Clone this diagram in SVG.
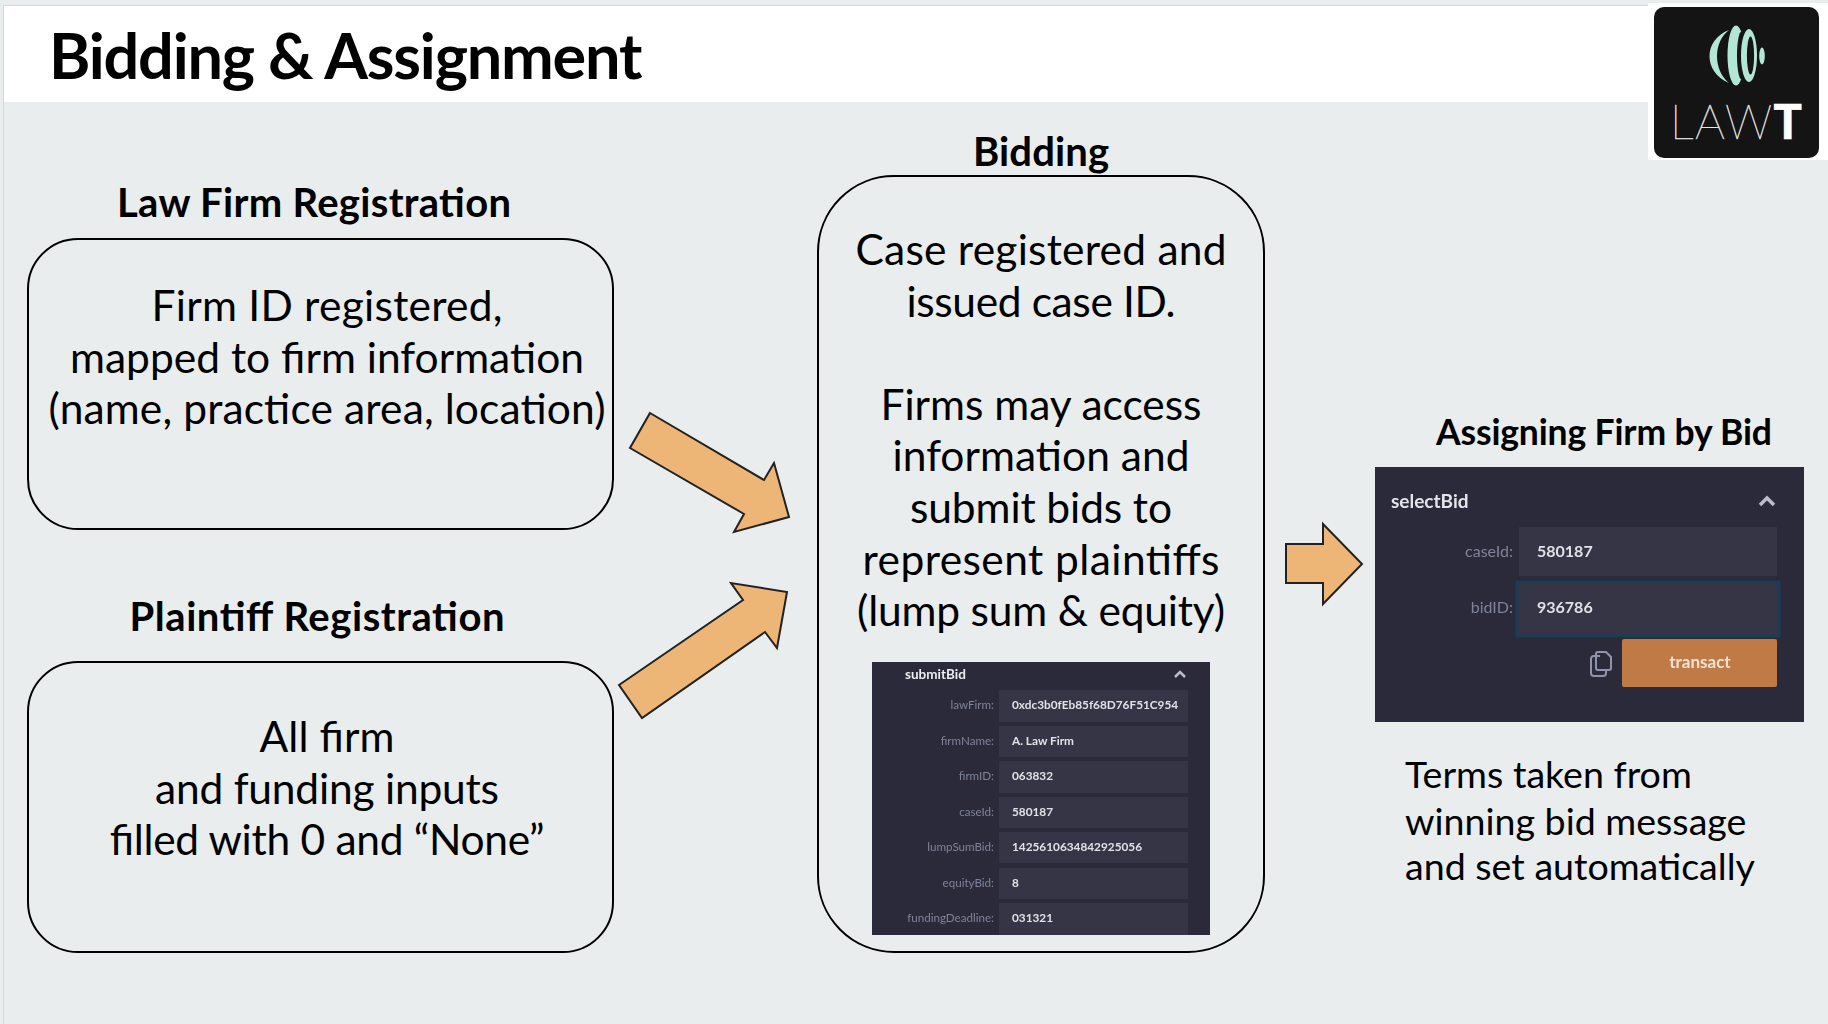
<svg xmlns="http://www.w3.org/2000/svg" width="1828" height="1024" viewBox="0 0 1828 1024">
<defs>
<style>
text{font-family:"Lato","Liberation Sans",sans-serif;fill:#000}
.h{font-weight:700;font-size:40px;text-anchor:middle}
.b{font-size:42.5px;text-anchor:middle}
.box{fill:none;stroke:#000;stroke-width:2}
.arr{fill:#edb677;stroke:#222;stroke-width:2}
.fld{fill:#363645}
.lb{text-anchor:end;font-size:11.6px}
.val{font-size:11.8px;font-weight:700}
</style>
<filter id="soft" x="-2%" y="-2%" width="104%" height="104%"><feGaussianBlur stdDeviation="0.7"/></filter>
<filter id="logoblur" x="-10%" y="-10%" width="120%" height="120%"><feGaussianBlur stdDeviation="0.5"/></filter>
</defs>
<rect width="1828" height="1024" fill="#e9edee"/>
<rect x="3" y="5" width="1820" height="1019" fill="#d6d8da"/>
<rect x="4" y="6" width="1644" height="96" fill="#ffffff"/>
<rect x="4" y="102" width="1819" height="922" fill="#e9edee"/>
<g id="title"><text x="49" y="79" font-size="63" font-weight="700" letter-spacing="-1.2">Bidding &amp; Assignment</text></g>
<g id="logo">
<rect x="1648" y="3" width="180" height="157" fill="#ffffff"/>
<rect x="1654" y="7" width="165" height="151" rx="10" fill="#141414"/>
<g filter="url(#logoblur)">
<g fill="#b4e6d5">
<path d="M1729 30C1703 40 1703 72 1729 83C1713 70 1713 42 1729 30Z"/>
<ellipse cx="1736" cy="55.5" rx="8.5" ry="30"/>
</g>
<ellipse cx="1741.5" cy="55.5" rx="4.5" ry="24" fill="#141414"/>
<ellipse cx="1749" cy="55.5" rx="9" ry="27.5" fill="#141414"/>
<ellipse cx="1749" cy="55.5" rx="8" ry="26.5" fill="#b4e6d5"/>
<ellipse cx="1750.5" cy="55.5" rx="3.6" ry="19" fill="#141414"/>
<ellipse cx="1762" cy="56" rx="2.8" ry="8.5" fill="#b4e6d5"/>
</g>
<text x="1670" y="139" font-size="47" font-weight="100" letter-spacing="1.5" style="fill:#e6e6e6;stroke:#e6e6e6;stroke-width:0.5">LAW<tspan font-weight="900" style="fill:#fff;stroke:#fff">T</tspan></text>
</g>
<g id="law-firm">
<text class="h" x="314" y="217" textLength="394">Law Firm Registration</text>
<rect class="box" x="28" y="239" width="585" height="290" rx="50"/>
<text class="b" x="327" y="321" textLength="351">Firm ID registered,</text>
<text class="b" x="327" y="373" textLength="514">mapped to firm information</text>
<text class="b" x="327" y="424" textLength="557">(name, practice area, location)</text>
</g>
<g id="plaintiff">
<text class="h" x="317" y="631" textLength="375">Plaintiff Registration</text>
<rect class="box" x="28" y="662" width="585" height="290" rx="50"/>
<text class="b" x="327" y="752" textLength="135">All firm</text>
<text class="b" x="327" y="804" textLength="344">and funding inputs</text>
<text class="b" x="327" y="855" textLength="435">filled with 0 and “None”</text>
</g>
<g id="bidding">
<text class="h" x="1041" y="166" textLength="136">Bidding</text>
<rect class="box" x="818" y="176" width="446" height="776" rx="76"/>
<text class="b" x="1041" y="265" textLength="371">Case registered and</text>
<text class="b" x="1041" y="317" textLength="269">issued case ID.</text>
<text class="b" x="1041" y="420" textLength="321">Firms may access</text>
<text class="b" x="1041" y="471" textLength="297">information and</text>
<text class="b" x="1041" y="523" textLength="262">submit bids to</text>
<text class="b" x="1041" y="575" textLength="357">represent plaintiffs</text>
<text class="b" x="1041" y="626" textLength="368">(lump sum &amp; equity)</text>
</g>
<g id="submitBid-panel" filter="url(#soft)">
<rect x="872" y="662" width="338" height="273" fill="#2b2b3b"/>
<text x="905" y="679" font-size="13.5" font-weight="700" style="fill:#eceded">submitBid</text>
<path d="M1175 677l5-5 5 5" fill="none" stroke="#b8bccb" stroke-width="2.5"/>
<rect class="fld" x="999" y="690" width="189" height="32"/>
<rect class="fld" x="999" y="726" width="189" height="31"/>
<rect class="fld" x="999" y="761" width="189" height="32"/>
<rect class="fld" x="999" y="797" width="189" height="31"/>
<rect class="fld" x="999" y="832" width="189" height="31"/>
<rect class="fld" x="999" y="868" width="189" height="31"/>
<rect class="fld" x="999" y="903" width="189" height="32"/>
<text class="lb" style="fill:#7f8298" x="994" y="709">lawFirm:</text>
<text class="lb" style="fill:#7f8298" x="994" y="745">firmName:</text>
<text class="lb" style="fill:#7f8298" x="994" y="780">firmID:</text>
<text class="lb" style="fill:#7f8298" x="994" y="816">caseId:</text>
<text class="lb" style="fill:#7f8298" x="994" y="851">lumpSumBid:</text>
<text class="lb" style="fill:#7f8298" x="994" y="887">equityBid:</text>
<text class="lb" style="fill:#7f8298" x="994" y="922">fundingDeadline:</text>
<text class="val" style="fill:#e0e2e8" x="1012" y="709">0xdc3b0fEb85f68D76F51C954</text>
<text class="val" style="fill:#e0e2e8" x="1012" y="745">A. Law Firm</text>
<text class="val" style="fill:#e0e2e8" x="1012" y="780">063832</text>
<text class="val" style="fill:#e0e2e8" x="1012" y="816">580187</text>
<text class="val" style="fill:#e0e2e8" x="1012" y="851">1425610634842925056</text>
<text class="val" style="fill:#e0e2e8" x="1012" y="887">8</text>
<text class="val" style="fill:#e0e2e8" x="1012" y="922">031321</text>
</g>
<g id="connectors">
<polygon class="arr" points="650,413 764,480 774,463 789,517 734,532 744,514 630,448"/>
<polygon class="arr" points="619,685 743,600 731,583 787,592 777,648 765,632 642,718"/>
<polygon class="arr" points="1286,544 1323,544 1323,524 1362,564 1323,604 1323,583 1286,583"/>
</g>
<g id="assign">
<text x="1436" y="445" font-size="35.5" font-weight="700" textLength="336">Assigning Firm by Bid</text>
<g filter="url(#soft)">
<rect x="1375" y="467" width="429" height="255" fill="#2b2b3b"/>
<text x="1391" y="508" font-size="19" font-weight="700" style="fill:#e4e5ea">selectBid</text>
<path d="M1760 505l7-7 7 7" fill="none" stroke="#b8bccb" stroke-width="3.5"/>
<rect class="fld" x="1519" y="527" width="258" height="49"/>
<rect class="fld" x="1517" y="582" width="262" height="54" stroke="#1f3a54" stroke-width="3"/>
<text class="lb" style="fill:#7f8298;font-size:16px" x="1513" y="557">caseId:</text>
<text class="lb" style="fill:#7f8298;font-size:16px" x="1513" y="613">bidID:</text>
<text class="val" style="fill:#e0e2e8;font-size:16px" x="1537" y="557">580187</text>
<text class="val" style="fill:#e0e2e8;font-size:16px" x="1537" y="613">936786</text>
<rect x="1622" y="639" width="155" height="48" rx="2" fill="#bf7a45"/>
<text x="1700" y="668" font-size="17" font-weight="700" text-anchor="middle" style="fill:#f3e2d4">transact</text>
<path d="M1600 656h-6a3 3 0 0 0-3 3v14a3 3 0 0 0 3 3h9a3 3 0 0 0 3-3v-3M1598 652h8l5 5v11a2 2 0 0 1-2 2h-11a2 2 0 0 1-2-2v-14a2 2 0 0 1 2-2z" fill="none" stroke="#8f93ad" stroke-width="2"/>
</g>
<text x="1405" y="788" font-size="37.6">Terms taken from</text>
<text x="1405" y="835" font-size="37.6">winning bid message</text>
<text x="1405" y="880" font-size="37.6">and set automatically</text>
</g>
</svg>
